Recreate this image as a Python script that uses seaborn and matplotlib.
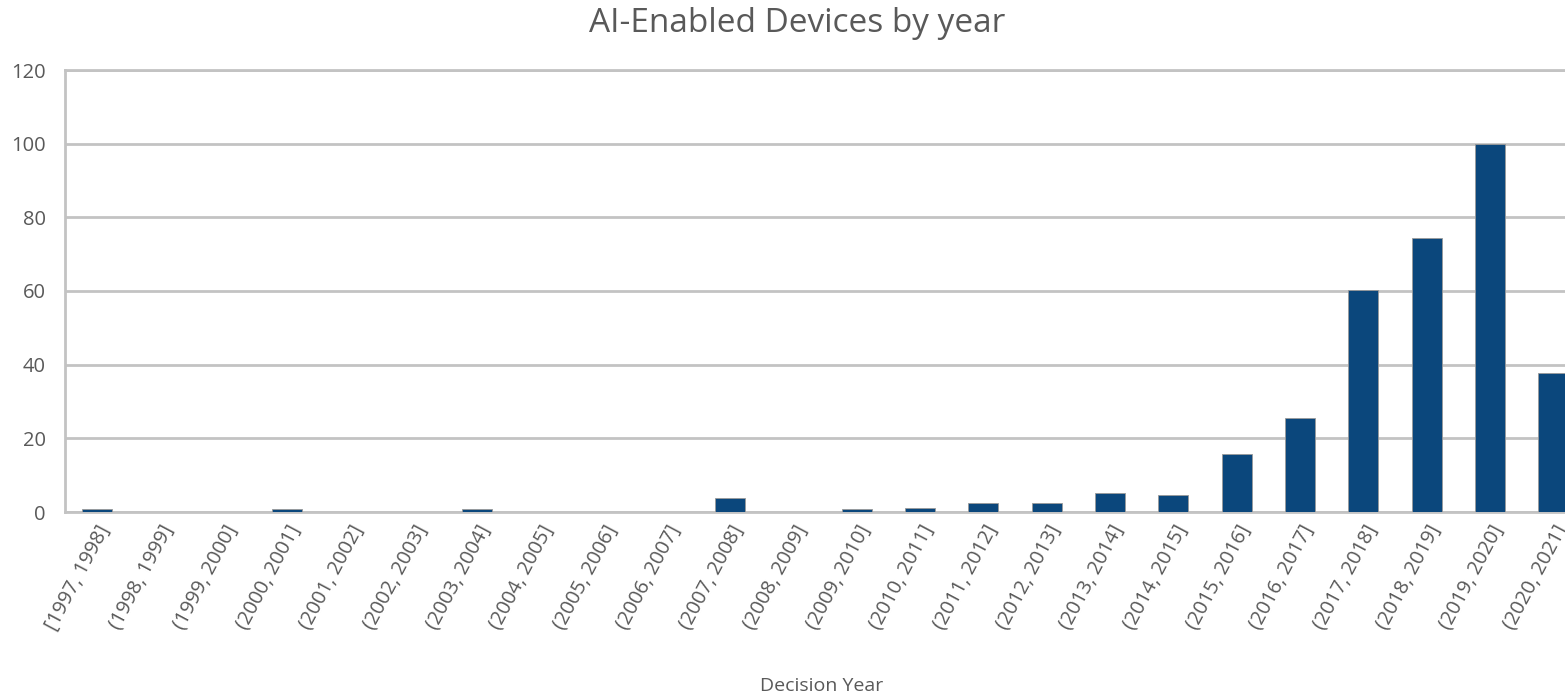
import matplotlib
matplotlib.use("Agg")
import matplotlib.pyplot as plt
import seaborn as sns
import pandas as pd

start_years = list(range(1997, 2021))
labels = [("[" if y == 1997 else "(") + f"{y}, {y+1}]" for y in start_years]
counts = [0.7, 0, 0, 0.7, 0, 0, 0.7, 0, 0, 0, 3.7, 0, 0.7, 1.2, 2.4, 2.4,
          5.2, 4.7, 15.7, 25.6, 60.4, 74.3, 100, 37.7]
y_ticks = [0, 20, 40, 60, 80, 100, 120]

title = "AI-Enabled Devices by year"
xlabel = "Decision Year"

sns.set_theme(style="white")
plt.rcParams["font.family"] = ["Open Sans", "DejaVu Sans"]

df = pd.DataFrame({"bin": labels, "count": counts})

fig = plt.figure(figsize=(15.65, 6.94), dpi=100)
ax = fig.add_axes([65/1565, 1-512/694, 1520/1565, (512-70)/694])

sns.barplot(data=df, x="bin", y="count", ax=ax, color="#0B477C",
            width=0.47, edgecolor="#9a9a9a", linewidth=0.6, saturation=1,
            zorder=3)

ax.set_ylim(0, 120)
ax.set_xlim(-0.5, len(labels) - 0.5)
ax.set_yticks(y_ticks)
ax.yaxis.grid(True, color="#c3c3c3", linewidth=2.0, zorder=0)
ax.xaxis.grid(False)
for side in ["left", "bottom", "top"]:
    ax.spines[side].set_visible(True)
    ax.spines[side].set_color("#c3c3c3")
    ax.spines[side].set_linewidth(2.0)
ax.spines["right"].set_visible(False)

gray = "#595959"
ax.tick_params(axis="y", length=0, pad=14, labelsize=14.5, labelcolor=gray)
ax.tick_params(axis="x", length=0, pad=7, labelsize=14.5, labelcolor=gray)
ax.set_xticks(range(len(labels)))
ax.set_xticklabels(labels, rotation=62, ha="right", rotation_mode="anchor")

ax.set_ylabel("")
ax.set_xlabel("")
fig.text(822/1565, 1 - 686/694, xlabel, ha="center", va="center",
         fontsize=14, color=gray)
fig.text(797/1565, 1 - 24/694, title, ha="center", va="center",
         fontsize=24, color=gray)

fig.savefig("out.png", dpi=100)
